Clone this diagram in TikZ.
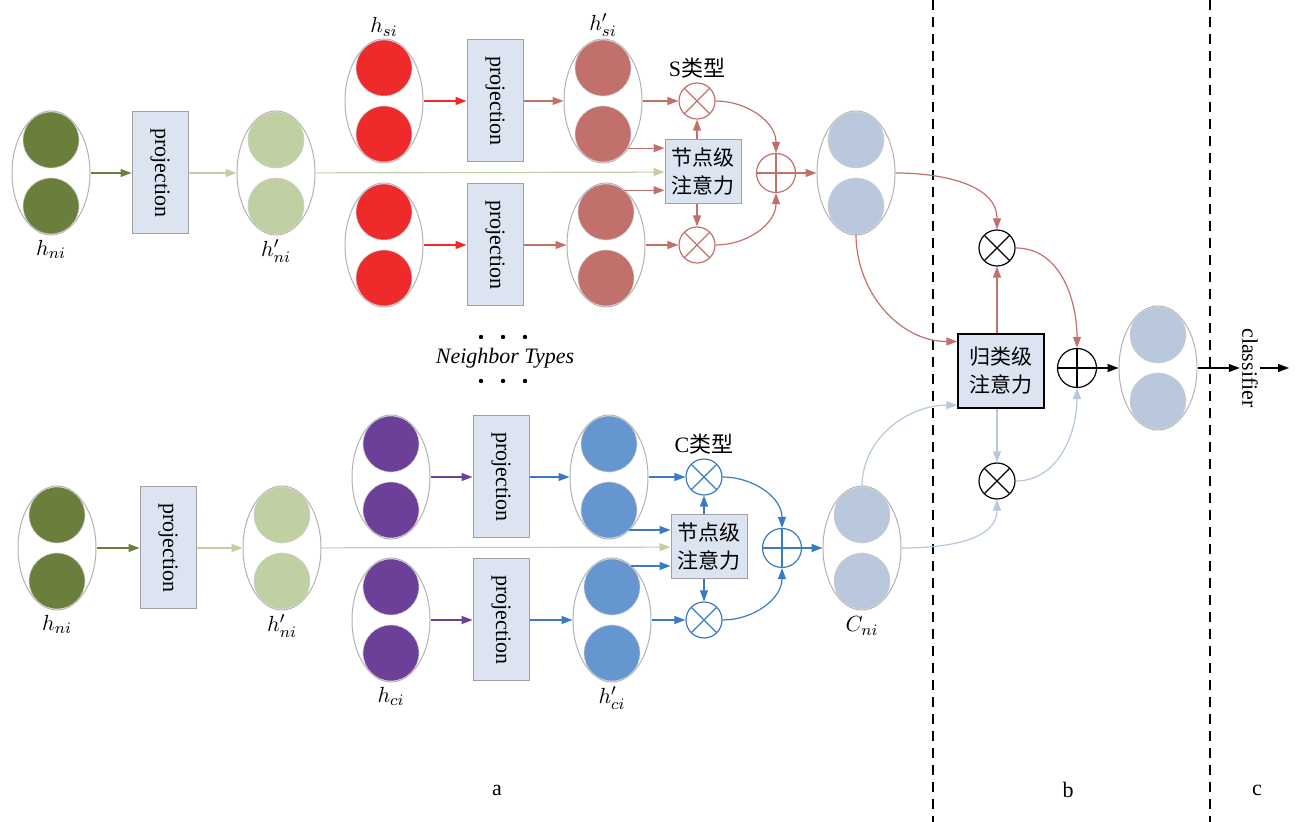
\documentclass[tikz,border=0pt]{standalone}
\usepackage{fontspec}
\setmainfont{Liberation Serif}
\newfontfamily\cjk{Noto Sans CJK SC}
\usepackage{tikz}
\usetikzlibrary{arrows.meta,positioning,shapes.geometric}
\definecolor{dkgreen}{RGB}{107,127,60}
\definecolor{ltgreen}{RGB}{193,208,163}
\definecolor{sred}{RGB}{238,42,42}
\definecolor{srose}{RGB}{193,112,108}
\definecolor{cpurple}{RGB}{108,64,152}
\definecolor{cblue}{RGB}{102,150,208}
\definecolor{cline}{RGB}{58,122,196}
\definecolor{outblue}{RGB}{185,200,220}
\definecolor{ltblue}{RGB}{180,200,222}
\definecolor{boxfill}{RGB}{220,228,242}
\definecolor{boxline}{RGB}{160,160,165}
\definecolor{ellline}{RGB}{178,178,178}
\tikzset{
  ell/.style ={ellipse,draw=ellline,line width=.5pt,minimum width=39pt,minimum height=62pt,inner sep=0pt},
  dot/.style ={circle,draw=gray!35,line width=.3pt,minimum size=28pt,inner sep=0pt},
  proj/.style={draw=boxline,fill=boxfill,line width=.5pt,rotate=-90,minimum width=61pt,minimum height=28pt,inner sep=0pt,font=\fontsize{11}{13}\selectfont},
  natt/.style={draw=boxline,fill=boxfill,line width=.5pt,minimum width=38pt,minimum height=32pt,inner sep=0pt,align=center,font=\cjk\fontsize{10.5}{14}\selectfont},
  catt/.style={natt,draw=black,line width=.7pt,minimum width=43pt,minimum height=37pt},
  mul/.style ={circle,draw=#1,line width=.6pt,minimum size=18pt,inner sep=0pt,
    path picture={\draw[#1,line width=.6pt] (path picture bounding box.north west)--(path picture bounding box.south east)
      (path picture bounding box.north east)--(path picture bounding box.south west);}},
  add/.style ={circle,draw=#1,line width=.6pt,minimum size=19.5pt,inner sep=0pt,
    path picture={\draw[#1,line width=.6pt] (path picture bounding box.north)--(path picture bounding box.south)
      (path picture bounding box.west)--(path picture bounding box.east);}},
  lbl/.style ={font=\fontsize{11}{13}\selectfont,inner sep=1pt},
  ar/.style  ={-{Triangle[length=5.5pt,width=4pt]},line width=.6pt},
}

\begin{document}
\begin{tikzpicture}[x=0.5pt,y=-0.5pt]
  \useasboundingbox (0,0) rectangle (1296,822);
  % feature vectors
  \foreach \nm/\x/\y/\c in {hn1/51/173/dkgreen, hn1p/276/173/ltgreen, hs1/384/101/sred, hs1p/603/101/srose,
      hs2/384/245/sred, hs2p/606/245/srose, os/856/173/outblue, hn2/57/548/dkgreen, hn2p/282/548/ltgreen,
      hc1/391/477/cpurple, hc1p/609/477/cblue, hc2/391/620/cpurple, hc2p/612/620/cblue,
      oc/862/548/outblue, of/1158/368/outblue}{
    \node[ell] (\nm) at (\x,\y) {};
    \node[dot,fill=\c] (\nm-a) at (\x,\y-33) {};
    \node[dot,fill=\c] (\nm-b) at (\x,\y+33) {};
  }
  \node[proj] (pn1) at (160,173) {projection};
  \node[proj] (ps1) at (495,101) {projection};
  \node[proj] (ps2) at (495,245) {projection};
  \node[proj] (pn2) at (168,548) {projection};
  \node[proj] (pc1) at (501,477) {projection};
  \node[proj] (pc2) at (501,620) {projection};
  \node[natt] (natts) at (703,172) {节点级\\注意力};
  \node[natt] (nattc) at (709,547) {节点级\\注意力};
  \node[mul=srose] (ms1) at (697,101) {};
  \node[mul=srose] (ms2) at (697,245) {};
  \node[add=srose] (as) at (776,173) {};
  \node[mul=cline] (mc1) at (704,477) {};
  \node[mul=cline] (mc2) at (704,620) {};
  \node[add=cline] (ac) at (782,548) {};
  \node[catt] (catt) at (1001,371) {归类级\\注意力};
  \node[mul=black] (mb1) at (997,248) {};
  \node[mul=black] (mb2) at (997,481) {};
  \node[add=black] (ab) at (1077,368) {};
  \node[font=\fontsize{11}{13}\selectfont,rotate=-90,inner sep=1pt] (clf) at (1250,368) {classifier};
  \coordinate (end) at (1289,368);
  % labels
  \node[lbl,below=1pt of hn1] {$h_{ni}$};
  \node[lbl,below=1pt of hn1p] {$h'_{ni}$};
  \node[lbl,above=0pt of hs1] {$h_{si}$};
  \node[lbl,above=0pt of hs1p] {$h'_{si}$};
  \node[lbl,below=1pt of hn2] {$h_{ni}$};
  \node[lbl,below=1pt of hn2p] {$h'_{ni}$};
  \node[lbl,below=1pt of hc2] {$h_{ci}$};
  \node[lbl,below=1pt of hc2p] {$h'_{ci}$};
  \node[lbl,below=2pt of oc] {$C_{ni}$};
  \node[lbl,above=1pt of ms1] {S{\cjk 类型}};
  \node[lbl,above=1pt of mc1] {C{\cjk 类型}};
  \node[lbl,font=\fontsize{11}{13}\selectfont\itshape] (nt) at (505,358) {Neighbor Types};
  \foreach \x in {481,503,525}{
    \fill (\x,337) circle (1.1pt);
    \fill (\x,381) circle (1.1pt);
  }
  \node[lbl] at (497,790) {$\mathrm{a}$};
  \node[lbl] at (1068,790) {$\mathrm{b}$};
  \node[lbl] at (1257,790) {$\mathrm{c}$};
  % separators
  \draw[line width=.6pt,dash pattern=on 5pt off 3.5pt] (933,0) -- (933,822);
  \draw[line width=.6pt,dash pattern=on 5pt off 3.5pt] (1210,0) -- (1210,822);
  % S type
  \draw[ar,dkgreen] (hn1) -- (pn1);
  \draw[ar,ltgreen] (pn1) -- (hn1p);
  \draw[ar,ltgreen] (hn1p) -- (natts);
  \draw[ar,sred] (hs1) -- (ps1);
  \draw[ar,sred] (hs2) -- (ps2);
  \draw[ar,srose] (ps1) -- (hs1p);
  \draw[ar,srose] (ps2) -- (hs2p);
  \draw[ar,srose] (hs1p) -- (ms1);
  \draw[ar,srose] (hs2p) -- (ms2);
  \draw[ar,srose] (hs1p-b.-30) -- (hs1p-b.-30 -| natts.west);
  \draw[ar,srose] (hs2p-a.50) -- (hs2p-a.50 -| natts.west);
  \draw[ar,srose] (natts.north -| ms1) -- (ms1);
  \draw[ar,srose] (natts.south -| ms2) -- (ms2);
  \draw[ar,srose] (ms1.east) to[out=0,in=90] (as.north);
  \draw[ar,srose] (ms2.east) to[out=0,in=-90] (as.south);
  \draw[ar,srose] (as) -- (os);
  % C type
  \draw[ar,dkgreen] (hn2) -- (pn2);
  \draw[ar,ltgreen] (pn2) -- (hn2p);
  \draw[ar,ltgreen] (hn2p) -- (nattc);
  \draw[ar,cpurple] (hc1) -- (pc1);
  \draw[ar,cpurple] (hc2) -- (pc2);
  \draw[ar,cline] (pc1) -- (hc1p);
  \draw[ar,cline] (pc2) -- (hc2p);
  \draw[ar,cline] (hc1p) -- (mc1);
  \draw[ar,cline] (hc2p) -- (mc2);
  \draw[ar,cline] (hc1p-b.-45) -- (hc1p-b.-45 -| nattc.west);
  \draw[ar,cline] (hc2p-a.48) -- (hc2p-a.48 -| nattc.west);
  \draw[ar,cline] (nattc.north -| mc1) -- (mc1);
  \draw[ar,cline] (nattc.south -| mc2) -- (mc2);
  \draw[ar,cline] (mc1.east) to[out=0,in=90] (ac.north);
  \draw[ar,cline] (mc2.east) to[out=0,in=-90] (ac.south);
  \draw[ar,cline] (ac) -- (oc);
  % type level
  \draw[ar,srose] (os.east) to[out=0,in=90] (mb1.north);
  \draw[ar,srose] (os-b.south) to[out=-90,in=180] (catt.146);
  \draw[ar,ltblue] (oc-a.north) to[out=90,in=180] (catt.218);
  \draw[ar,ltblue] (oc.east) to[out=0,in=-90] (mb2.south);
  \draw[ar,srose] (catt.north -| mb1) -- (mb1);
  \draw[ar,ltblue] (catt.south -| mb2) -- (mb2);
  \draw[ar,srose] (mb1.east) to[out=0,in=90] (ab.north);
  \draw[ar,ltblue] (mb2.east) to[out=0,in=-90] (ab.south);
  \draw[ar,black] (ab) -- (of);
  \draw[ar,black] (of) -- (clf.south);
  \draw[ar,black] (clf.north) -- (end);
\end{tikzpicture}
\end{document}
